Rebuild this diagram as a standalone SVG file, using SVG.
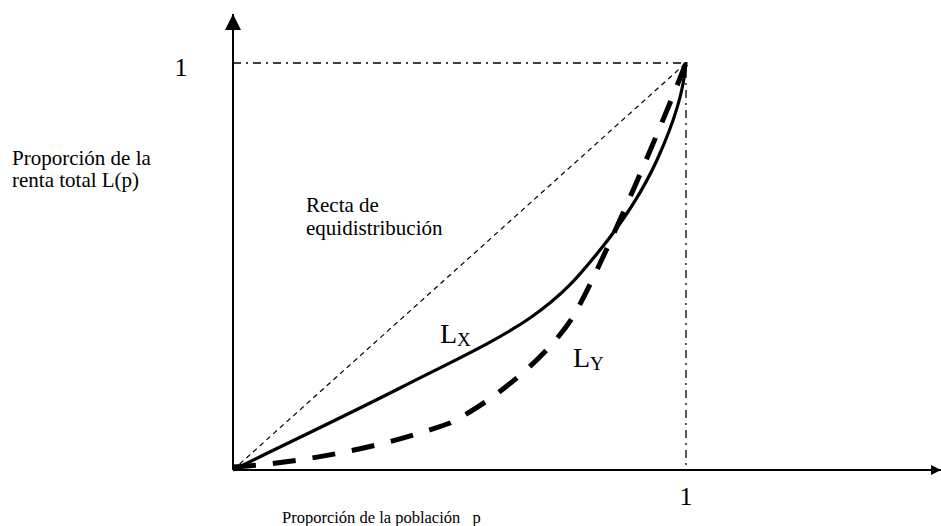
<svg xmlns="http://www.w3.org/2000/svg" width="941" height="526" viewBox="0 0 941 526">
<style>
text{font-family:"Liberation Serif","Times New Roman",serif;fill:#000}
.ax{stroke:#000;stroke-width:2;fill:none}
.dd{stroke:#000;stroke-width:1.3;fill:none;stroke-dasharray:8,5,2,5}
.diag{stroke:#000;stroke-width:1.2;fill:none;stroke-dasharray:5,4}
.lx{stroke:#000;stroke-width:3.2;fill:none}
.ly{stroke:#000;stroke-width:5;fill:none;stroke-dasharray:23,17}
</style>
<defs>
<marker id="ah" viewBox="0 0 10 10" refX="10" refY="5" markerWidth="10" markerHeight="10" markerUnits="userSpaceOnUse" orient="auto">
<path d="M0,0 L10,5 L0,10 z" fill="#000"/>
</marker>
<marker id="ahv" viewBox="0 0 10 10" refX="10" refY="5" markerWidth="16" markerHeight="16" markerUnits="userSpaceOnUse" orient="auto">
<path d="M0,0 L10,5 L0,10 z" fill="#000"/>
</marker>
</defs>
<g id="connectors">
<line class="ax" x1="233" y1="470" x2="233" y2="14" marker-end="url(#ahv)"/>
<line class="ax" x1="233" y1="470" x2="941" y2="470" marker-end="url(#ah)"/>
<polyline class="dd" points="233,63 686,63 686,470"/>
<line class="diag" x1="233" y1="470" x2="686" y2="63"/>
<path id="LX" class="lx" d="M233,470 C277.5,448 350.5,413.3 400,388 C449.5,362.7 496.7,341 530,318 C563.3,295 578.8,276.3 600,250 C621.2,223.7 642.7,191.3 657,160 C671.3,128.7 684,92 686,62"/>
<path id="LY" class="ly" d="M233,467 C310,462 390,445 450,423 C490,403 545,360 573,317 C600,270 660,130 686,63"/>
</g>
<g id="labels">
<text x="181" y="76" font-size="26" text-anchor="middle">1</text>
<text x="686" y="505" font-size="26" text-anchor="middle">1</text>
<text x="12" y="165" font-size="21">Proporción de la</text>
<text x="12" y="187" font-size="21">renta total L(p)</text>
<text x="306" y="212" font-size="21">Recta de</text>
<text x="306" y="235" font-size="21">equidistribución</text>
<text x="282" y="523" font-size="16.5" xml:space="preserve">Proporción de la población   p</text>
<text x="440" y="343" font-size="28">L<tspan font-size="19" dy="3">X</tspan></text>
<text x="573" y="367" font-size="28">L<tspan font-size="19" dy="3">Y</tspan></text>
</g>
</svg>
